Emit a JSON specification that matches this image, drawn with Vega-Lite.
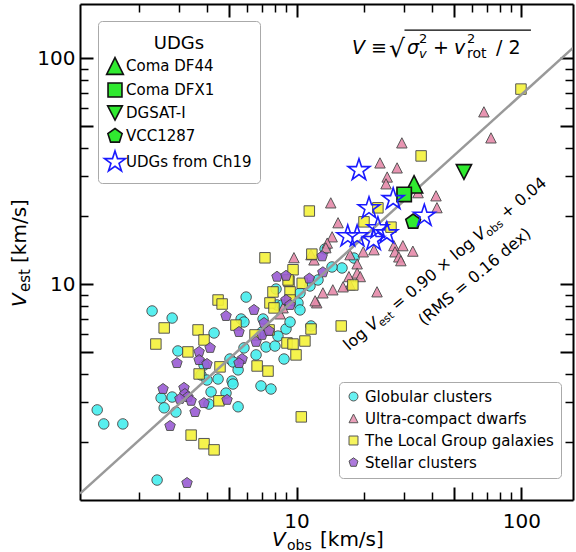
{
  "$schema": "https://vega.github.io/schema/vega-lite/v6.json",
  "width": 493,
  "height": 496,
  "autosize": {"type": "none"},
  "padding": {"left": 80, "top": 4, "right": 3, "bottom": 52},
  "background": "white",
  "config": {"font": "DejaVu Sans", "view": {"stroke": null}, "text": {"color": "black", "font": "DejaVu Sans"}},
  "layer": [
    {
      "data": {"values": [
        {"group": "Globular clusters", "vobs": 1.30, "vest": 2.78},
        {"group": "Globular clusters", "vobs": 1.39, "vest": 2.41},
        {"group": "Globular clusters", "vobs": 1.69, "vest": 2.41},
        {"group": "Globular clusters", "vobs": 2.40, "vest": 1.36},
        {"group": "Globular clusters", "vobs": 2.28, "vest": 7.62},
        {"group": "Globular clusters", "vobs": 2.80, "vest": 7.09},
        {"group": "Globular clusters", "vobs": 2.97, "vest": 5.07},
        {"group": "Globular clusters", "vobs": 2.50, "vest": 3.14},
        {"group": "Globular clusters", "vobs": 2.58, "vest": 2.84},
        {"group": "Globular clusters", "vobs": 2.80, "vest": 3.17},
        {"group": "Globular clusters", "vobs": 2.91, "vest": 2.72},
        {"group": "Globular clusters", "vobs": 3.88, "vest": 4.39},
        {"group": "Globular clusters", "vobs": 4.30, "vest": 6.09},
        {"group": "Globular clusters", "vobs": 3.76, "vest": 3.97},
        {"group": "Globular clusters", "vobs": 4.00, "vest": 3.77},
        {"group": "Globular clusters", "vobs": 4.48, "vest": 3.81},
        {"group": "Globular clusters", "vobs": 4.17, "vest": 3.34},
        {"group": "Globular clusters", "vobs": 4.08, "vest": 2.95},
        {"group": "Globular clusters", "vobs": 4.86, "vest": 3.30},
        {"group": "Globular clusters", "vobs": 5.17, "vest": 3.73},
        {"group": "Globular clusters", "vobs": 5.22, "vest": 3.62},
        {"group": "Globular clusters", "vobs": 5.06, "vest": 4.67},
        {"group": "Globular clusters", "vobs": 5.22, "vest": 4.53},
        {"group": "Globular clusters", "vobs": 5.50, "vest": 4.18},
        {"group": "Globular clusters", "vobs": 5.50, "vest": 2.87},
        {"group": "Globular clusters", "vobs": 5.97, "vest": 8.78},
        {"group": "Globular clusters", "vobs": 5.67, "vest": 7.02},
        {"group": "Globular clusters", "vobs": 5.84, "vest": 6.81},
        {"group": "Globular clusters", "vobs": 5.84, "vest": 5.23},
        {"group": "Globular clusters", "vobs": 6.61, "vest": 4.87},
        {"group": "Globular clusters", "vobs": 6.95, "vest": 3.55},
        {"group": "Globular clusters", "vobs": 7.70, "vest": 3.44},
        {"group": "Globular clusters", "vobs": 7.32, "vest": 5.28},
        {"group": "Globular clusters", "vobs": 8.02, "vest": 5.33},
        {"group": "Globular clusters", "vobs": 8.80, "vest": 4.67},
        {"group": "Globular clusters", "vobs": 8.27, "vest": 5.90},
        {"group": "Globular clusters", "vobs": 8.98, "vest": 6.34},
        {"group": "Globular clusters", "vobs": 7.10, "vest": 7.02},
        {"group": "Globular clusters", "vobs": 8.11, "vest": 9.53},
        {"group": "Globular clusters", "vobs": 8.19, "vest": 8.10},
        {"group": "Globular clusters", "vobs": 10.36, "vest": 9.15},
        {"group": "Globular clusters", "vobs": 10.15, "vest": 8.27},
        {"group": "Globular clusters", "vobs": 11.48, "vest": 9.83},
        {"group": "Globular clusters", "vobs": 13.39, "vest": 14.33},
        {"group": "Globular clusters", "vobs": 15.93, "vest": 11.81},
        {"group": "Globular clusters", "vobs": 18.01, "vest": 13.07},
        {"group": "Globular clusters", "vobs": 14.38, "vest": 11.93},
        {"group": "Globular clusters", "vobs": 8.62, "vest": 8.10},
        {"group": "Globular clusters", "vobs": 11.60, "vest": 6.54},
        {"group": "Globular clusters", "vobs": 10.36, "vest": 7.70},
        {"group": "Globular clusters", "vobs": 9.36, "vest": 6.81},
        {"group": "Globular clusters", "vobs": 7.03, "vest": 6.15},
        {"group": "Globular clusters", "vobs": 12.46, "vest": 10.45},
        {"group": "Ultra-compact dwarfs", "vobs": 68.1, "vest": 57.9},
        {"group": "Ultra-compact dwarfs", "vobs": 73.2, "vest": 44.4},
        {"group": "Ultra-compact dwarfs", "vobs": 29.4, "vest": 42.2},
        {"group": "Ultra-compact dwarfs", "vobs": 23.5, "vest": 34.4},
        {"group": "Ultra-compact dwarfs", "vobs": 28.0, "vest": 32.7},
        {"group": "Ultra-compact dwarfs", "vobs": 25.3, "vest": 29.8},
        {"group": "Ultra-compact dwarfs", "vobs": 25.0, "vest": 27.8},
        {"group": "Ultra-compact dwarfs", "vobs": 34.7, "vest": 25.4},
        {"group": "Ultra-compact dwarfs", "vobs": 41.7, "vest": 24.6},
        {"group": "Ultra-compact dwarfs", "vobs": 42.1, "vest": 21.8},
        {"group": "Ultra-compact dwarfs", "vobs": 14.2, "vest": 22.9},
        {"group": "Ultra-compact dwarfs", "vobs": 15.3, "vest": 18.7},
        {"group": "Ultra-compact dwarfs", "vobs": 14.4, "vest": 16.2},
        {"group": "Ultra-compact dwarfs", "vobs": 13.7, "vest": 15.2},
        {"group": "Ultra-compact dwarfs", "vobs": 13.5, "vest": 14.5},
        {"group": "Ultra-compact dwarfs", "vobs": 17.3, "vest": 13.5},
        {"group": "Ultra-compact dwarfs", "vobs": 19.8, "vest": 13.9},
        {"group": "Ultra-compact dwarfs", "vobs": 22.1, "vest": 14.2},
        {"group": "Ultra-compact dwarfs", "vobs": 27.1, "vest": 14.8},
        {"group": "Ultra-compact dwarfs", "vobs": 29.7, "vest": 14.8},
        {"group": "Ultra-compact dwarfs", "vobs": 32.9, "vest": 14.0},
        {"group": "Ultra-compact dwarfs", "vobs": 27.4, "vest": 13.9},
        {"group": "Ultra-compact dwarfs", "vobs": 28.5, "vest": 13.2},
        {"group": "Ultra-compact dwarfs", "vobs": 29.1, "vest": 12.7},
        {"group": "Ultra-compact dwarfs", "vobs": 9.74, "vest": 13.1},
        {"group": "Ultra-compact dwarfs", "vobs": 11.96, "vest": 12.8},
        {"group": "Ultra-compact dwarfs", "vobs": 11.6, "vest": 13.5},
        {"group": "Ultra-compact dwarfs", "vobs": 18.6, "vest": 12.3},
        {"group": "Ultra-compact dwarfs", "vobs": 18.6, "vest": 11.2},
        {"group": "Ultra-compact dwarfs", "vobs": 19.2, "vest": 10.8},
        {"group": "Ultra-compact dwarfs", "vobs": 17.1, "vest": 10.8},
        {"group": "Ultra-compact dwarfs", "vobs": 17.3, "vest": 9.93},
        {"group": "Ultra-compact dwarfs", "vobs": 16.1, "vest": 9.73},
        {"group": "Ultra-compact dwarfs", "vobs": 14.5, "vest": 9.44},
        {"group": "Ultra-compact dwarfs", "vobs": 22.8, "vest": 9.25},
        {"group": "Ultra-compact dwarfs", "vobs": 13.1, "vest": 9.15},
        {"group": "Ultra-compact dwarfs", "vobs": 12.3, "vest": 8.27},
        {"group": "Ultra-compact dwarfs", "vobs": 12.1, "vest": 8.44},
        {"group": "Ultra-compact dwarfs", "vobs": 8.45, "vest": 7.39},
        {"group": "Ultra-compact dwarfs", "vobs": 8.71, "vest": 7.86},
        {"group": "The Local Group galaxies", "vobs": 99.5, "vest": 73.1},
        {"group": "The Local Group galaxies", "vobs": 35.8, "vest": 37.0},
        {"group": "The Local Group galaxies", "vobs": 11.4, "vest": 21.1},
        {"group": "The Local Group galaxies", "vobs": 19.95, "vest": 18.9},
        {"group": "The Local Group galaxies", "vobs": 23.0, "vest": 21.8},
        {"group": "The Local Group galaxies", "vobs": 11.7, "vest": 13.6},
        {"group": "The Local Group galaxies", "vobs": 26.3, "vest": 17.9},
        {"group": "The Local Group galaxies", "vobs": 7.24, "vest": 13.1},
        {"group": "The Local Group galaxies", "vobs": 9.65, "vest": 11.6},
        {"group": "The Local Group galaxies", "vobs": 10.6, "vest": 10.1},
        {"group": "The Local Group galaxies", "vobs": 9.26, "vest": 10.3},
        {"group": "The Local Group galaxies", "vobs": 17.8, "vest": 9.93},
        {"group": "The Local Group galaxies", "vobs": 7.86, "vest": 9.25},
        {"group": "The Local Group galaxies", "vobs": 9.36, "vest": 9.25},
        {"group": "The Local Group galaxies", "vobs": 7.62, "vest": 8.27},
        {"group": "The Local Group galaxies", "vobs": 4.48, "vest": 8.52},
        {"group": "The Local Group galaxies", "vobs": 4.67, "vest": 8.18},
        {"group": "The Local Group galaxies", "vobs": 2.58, "vest": 6.41},
        {"group": "The Local Group galaxies", "vobs": 3.65, "vest": 6.28},
        {"group": "The Local Group galaxies", "vobs": 3.88, "vest": 5.67},
        {"group": "The Local Group galaxies", "vobs": 5.38, "vest": 6.60},
        {"group": "The Local Group galaxies", "vobs": 7.94, "vest": 7.86},
        {"group": "The Local Group galaxies", "vobs": 2.37, "vest": 5.44},
        {"group": "The Local Group galaxies", "vobs": 3.29, "vest": 5.02},
        {"group": "The Local Group galaxies", "vobs": 3.69, "vest": 4.01},
        {"group": "The Local Group galaxies", "vobs": 4.57, "vest": 4.31},
        {"group": "The Local Group galaxies", "vobs": 4.52, "vest": 3.05},
        {"group": "The Local Group galaxies", "vobs": 6.68, "vest": 4.35},
        {"group": "The Local Group galaxies", "vobs": 7.47, "vest": 4.13},
        {"group": "The Local Group galaxies", "vobs": 3.40, "vest": 2.15},
        {"group": "The Local Group galaxies", "vobs": 3.88, "vest": 1.97},
        {"group": "The Local Group galaxies", "vobs": 4.30, "vest": 1.85},
        {"group": "The Local Group galaxies", "vobs": 6.54, "vest": 5.97},
        {"group": "The Local Group galaxies", "vobs": 7.55, "vest": 6.28},
        {"group": "The Local Group galaxies", "vobs": 9.07, "vest": 5.50},
        {"group": "The Local Group galaxies", "vobs": 9.65, "vest": 5.44},
        {"group": "The Local Group galaxies", "vobs": 9.95, "vest": 4.87},
        {"group": "The Local Group galaxies", "vobs": 15.8, "vest": 6.54},
        {"group": "The Local Group galaxies", "vobs": 11.6, "vest": 6.34},
        {"group": "The Local Group galaxies", "vobs": 10.9, "vest": 5.61},
        {"group": "The Local Group galaxies", "vobs": 10.5, "vest": 2.59},
        {"group": "The Local Group galaxies", "vobs": 9.17, "vest": 10.45},
        {"group": "The Local Group galaxies", "vobs": 9.36, "vest": 8.52},
        {"group": "Stellar clusters", "vobs": 2.55, "vest": 3.44},
        {"group": "Stellar clusters", "vobs": 3.16, "vest": 3.48},
        {"group": "Stellar clusters", "vobs": 2.74, "vest": 2.36},
        {"group": "Stellar clusters", "vobs": 3.26, "vest": 1.32},
        {"group": "Stellar clusters", "vobs": 2.94, "vest": 4.48},
        {"group": "Stellar clusters", "vobs": 3.69, "vest": 5.02},
        {"group": "Stellar clusters", "vobs": 4.13, "vest": 5.23},
        {"group": "Stellar clusters", "vobs": 3.69, "vest": 4.62},
        {"group": "Stellar clusters", "vobs": 4.00, "vest": 4.44},
        {"group": "Stellar clusters", "vobs": 3.19, "vest": 3.27},
        {"group": "Stellar clusters", "vobs": 3.29, "vest": 3.17},
        {"group": "Stellar clusters", "vobs": 3.03, "vest": 3.11},
        {"group": "Stellar clusters", "vobs": 3.40, "vest": 3.05},
        {"group": "Stellar clusters", "vobs": 3.54, "vest": 2.72},
        {"group": "Stellar clusters", "vobs": 3.88, "vest": 2.98},
        {"group": "Stellar clusters", "vobs": 4.91, "vest": 3.08},
        {"group": "Stellar clusters", "vobs": 4.86, "vest": 7.24},
        {"group": "Stellar clusters", "vobs": 5.55, "vest": 6.15},
        {"group": "Stellar clusters", "vobs": 5.73, "vest": 4.67},
        {"group": "Stellar clusters", "vobs": 5.55, "vest": 4.48},
        {"group": "Stellar clusters", "vobs": 6.47, "vest": 7.70},
        {"group": "Stellar clusters", "vobs": 6.61, "vest": 5.56},
        {"group": "Stellar clusters", "vobs": 7.03, "vest": 5.97},
        {"group": "Stellar clusters", "vobs": 7.17, "vest": 6.74},
        {"group": "Stellar clusters", "vobs": 7.55, "vest": 6.22},
        {"group": "Stellar clusters", "vobs": 8.19, "vest": 10.8},
        {"group": "Stellar clusters", "vobs": 8.98, "vest": 10.9},
        {"group": "Stellar clusters", "vobs": 8.98, "vest": 8.52},
        {"group": "Stellar clusters", "vobs": 9.36, "vest": 8.10},
        {"group": "Stellar clusters", "vobs": 11.4, "vest": 10.6},
        {"group": "Stellar clusters", "vobs": 13.1, "vest": 11.3},
        {"group": "Stellar clusters", "vobs": 13.0, "vest": 13.3}
      ]},
      "mark": {"type": "point", "filled": true, "size": 110, "strokeWidth": 1, "opacity": 0.9},
      "encoding": {
        "x": {"field": "vobs", "type": "quantitative",
          "scale": {"type": "log", "domain": [1.09, 169.5], "nice": false},
          "axis": {"orient": "bottom", "values": [2,3,4,5,6,7,8,9,10,20,30,40,50,60,70,80,90,100],
            "labelExpr": "datum.value == 10 ? '10' : datum.value == 100 ? '100' : ''",
            "title": null, "grid": false, "domainColor": "black", "domainWidth": 2, "tickColor": "black",
            "tickSize": {"condition": {"test": "datum.value == 5 || datum.value == 10 || datum.value == 50 || datum.value == 100", "value": -13}, "value": -8},
            "tickWidth": {"condition": {"test": "datum.value == 5 || datum.value == 10 || datum.value == 50 || datum.value == 100", "value": 2}, "value": 1.5},
            "labelFont": "DejaVu Sans", "labelFontSize": 20, "labelColor": "black", "labelPadding": 24,
            "labelOverlap": false, "labelFlush": false, "labelBound": false}},
        "y": {"field": "vest", "type": "quantitative",
          "scale": {"type": "log", "domain": [1.11, 174], "nice": false},
          "axis": {"orient": "left", "values": [2,3,4,5,6,7,8,9,10,20,30,40,50,60,70,80,90,100],
            "labelExpr": "datum.value == 10 ? '10' : datum.value == 100 ? '100' : ''",
            "title": null, "grid": false, "domainColor": "black", "domainWidth": 2, "tickColor": "black",
            "tickSize": {"condition": {"test": "datum.value == 5 || datum.value == 10 || datum.value == 50 || datum.value == 100", "value": -13}, "value": -8},
            "tickWidth": {"condition": {"test": "datum.value == 5 || datum.value == 10 || datum.value == 50 || datum.value == 100", "value": 2}, "value": 1.5},
            "labelFont": "DejaVu Sans", "labelFontSize": 20, "labelColor": "black", "labelPadding": 18,
            "labelOverlap": false, "labelFlush": false, "labelBound": false}},
        "fill": {"field": "group", "type": "nominal",
          "scale": {"domain": ["Globular clusters", "Ultra-compact dwarfs", "The Local Group galaxies", "Stellar clusters"],
                    "range": ["#45eeee", "#e68aaa", "#f5f23a", "#9a5bd4"]},
          "legend": {"title": null, "orient": "none", "legendX": 259, "legendY": 378, "padding": 7, "strokeColor": "#aaaaaa", "fillColor": "white", "cornerRadius": 4, "labelFont": "DejaVu Sans", "labelFontSize": 15, "labelColor": "black", "labelOffset": 4, "symbolSize": 80, "symbolStrokeWidth": 1, "rowPadding": 6, "labelLimit": 300}},
        "shape": {"field": "group", "type": "nominal",
          "scale": {"domain": ["Globular clusters", "Ultra-compact dwarfs", "The Local Group galaxies", "Stellar clusters"],
                    "range": ["circle", "M0,-1L1,0.95L-1,0.95Z", "square", "M0,-1.05L1,-0.32L0.62,0.85L-0.62,0.85L-1,-0.32Z"]},
          "legend": {"title": null, "orient": "none", "legendX": 259, "legendY": 378, "padding": 7, "strokeColor": "#aaaaaa", "fillColor": "white", "cornerRadius": 4, "labelFont": "DejaVu Sans", "labelFontSize": 15, "labelColor": "black", "labelOffset": 4, "symbolSize": 80, "symbolStrokeWidth": 1, "rowPadding": 6, "labelLimit": 300}},
        "stroke": {"field": "group", "type": "nominal",
          "scale": {"domain": ["Globular clusters", "Ultra-compact dwarfs", "The Local Group galaxies", "Stellar clusters"],
                    "range": ["#444444", "#444444", "#444444", "#444444"]},
          "legend": {"title": null, "orient": "none", "legendX": 259, "legendY": 378, "padding": 7, "strokeColor": "#aaaaaa", "fillColor": "white", "cornerRadius": 4, "labelFont": "DejaVu Sans", "labelFontSize": 15, "labelColor": "black", "labelOffset": 4, "symbolSize": 80, "symbolStrokeWidth": 1, "rowPadding": 6, "labelLimit": 300}}
      }
    },
    {
      "data": {"values": [{"vobs": 1.09, "vest": 1.185}, {"vobs": 169.5, "vest": 111.2}]},
      "mark": {"type": "line", "color": "#999999", "strokeWidth": 2.5, "clip": true},
      "encoding": {
        "x": {"field": "vobs", "type": "quantitative", "axis": null},
        "y": {"field": "vest", "type": "quantitative", "axis": null}
      }
    },
    {
      "data": {"values": [
        {"name": "Coma DF44", "vobs": 33.3, "vest": 27.7},
        {"name": "Coma DFX1", "vobs": 30.1, "vest": 25.0},
        {"name": "DGSAT-I", "vobs": 55.5, "vest": 31.4},
        {"name": "VCC1287", "vobs": 33.0, "vest": 18.9},
        {"name": "UDGs from Ch19", "vobs": 18.95, "vest": 32.0},
        {"name": "UDGs from Ch19", "vobs": 21.0, "vest": 21.7},
        {"name": "UDGs from Ch19", "vobs": 26.9, "vest": 23.8},
        {"name": "UDGs from Ch19", "vobs": 37.0, "vest": 20.1},
        {"name": "UDGs from Ch19", "vobs": 23.0, "vest": 17.7},
        {"name": "UDGs from Ch19", "vobs": 25.2, "vest": 16.8},
        {"name": "UDGs from Ch19", "vobs": 16.9, "vest": 16.3},
        {"name": "UDGs from Ch19", "vobs": 18.6, "vest": 16.3},
        {"name": "UDGs from Ch19", "vobs": 22.0, "vest": 15.7}
      ]},
      "mark": {"type": "point", "filled": true, "size": 256, "strokeWidth": 1.6, "opacity": 1},
      "encoding": {
        "x": {"field": "vobs", "type": "quantitative", "axis": null},
        "y": {"field": "vest", "type": "quantitative", "axis": null},
        "shape": {"field": "name", "type": "nominal",
          "scale": {"domain": ["Coma DF44", "Coma DFX1", "DGSAT-I", "VCC1287", "UDGs from Ch19"],
                    "range": ["M0,-1.08L1.08,1.08L-1.08,1.08Z", "M-0.9,-0.9L0.9,-0.9L0.9,0.9L-0.9,0.9Z", "M0,0.92L0.95,-0.92L-0.95,-0.92Z", "M0,-0.97L0.922,-0.3L0.57,0.785L-0.57,0.785L-0.922,-0.3Z", "M0,-1.43L0.321,-0.442L1.36,-0.442L0.519,0.169L0.841,1.157L0,0.546L-0.841,1.157L-0.519,0.169L-1.36,-0.442L-0.321,-0.442Z"]},
          "legend": {"title": ["", "UDGs"], "orient": "none", "legendX": 18, "legendY": 17, "titleAnchor": "middle", "titleFont": "DejaVu Sans", "titleFontSize": 18, "titleFontWeight": "normal", "titleColor": "black", "titleLineHeight": 6, "titlePadding": 4, "padding": 8, "strokeColor": "#aaaaaa", "fillColor": "white", "cornerRadius": 4, "labelFont": "DejaVu Sans", "labelFontSize": 15, "labelColor": "black", "labelOffset": 2, "symbolSize": 240, "symbolStrokeWidth": 1.6, "rowPadding": 1, "labelLimit": 300}},
        "fill": {"field": "name", "type": "nominal",
          "scale": {"domain": ["Coma DF44", "Coma DFX1", "DGSAT-I", "VCC1287", "UDGs from Ch19"],
                    "range": ["#30ea30", "#30ea30", "#30ea30", "#30ea30", "transparent"]},
          "legend": {"title": ["", "UDGs"], "orient": "none", "legendX": 18, "legendY": 17, "titleAnchor": "middle", "titleFont": "DejaVu Sans", "titleFontSize": 18, "titleFontWeight": "normal", "titleColor": "black", "titleLineHeight": 6, "titlePadding": 4, "padding": 8, "strokeColor": "#aaaaaa", "fillColor": "white", "cornerRadius": 4, "labelFont": "DejaVu Sans", "labelFontSize": 15, "labelColor": "black", "labelOffset": 2, "symbolSize": 240, "symbolStrokeWidth": 1.6, "rowPadding": 1, "labelLimit": 300}},
        "stroke": {"field": "name", "type": "nominal",
          "scale": {"domain": ["Coma DF44", "Coma DFX1", "DGSAT-I", "VCC1287", "UDGs from Ch19"],
                    "range": ["#111111", "#111111", "#111111", "#111111", "#1a1aff"]},
          "legend": {"title": ["", "UDGs"], "orient": "none", "legendX": 18, "legendY": 17, "titleAnchor": "middle", "titleFont": "DejaVu Sans", "titleFontSize": 18, "titleFontWeight": "normal", "titleColor": "black", "titleLineHeight": 6, "titlePadding": 4, "padding": 8, "strokeColor": "#aaaaaa", "fillColor": "white", "cornerRadius": 4, "labelFont": "DejaVu Sans", "labelFontSize": 15, "labelColor": "black", "labelOffset": 2, "symbolSize": 240, "symbolStrokeWidth": 1.6, "rowPadding": 1, "labelLimit": 300}}
      }
    },
    {
      "data": {"values": [{"vobs": 10, "vest": 10}]},
      "mark": {"type": "point", "opacity": 0},
      "encoding": {
        "x": {"field": "vobs", "type": "quantitative",
          "axis": {"orient": "top", "values": [2,3,4,5,6,7,8,9,10,20,30,40,50,60,70,80,90,100], "labels": false,
            "title": null, "grid": false, "domainColor": "black", "domainWidth": 2, "tickColor": "black",
            "tickSize": {"condition": {"test": "datum.value == 5 || datum.value == 10 || datum.value == 50 || datum.value == 100", "value": -13}, "value": -8},
            "tickWidth": {"condition": {"test": "datum.value == 5 || datum.value == 10 || datum.value == 50 || datum.value == 100", "value": 2}, "value": 1.5}}},
        "y": {"field": "vest", "type": "quantitative",
          "axis": {"orient": "right", "values": [2,3,4,5,6,7,8,9,10,20,30,40,50,60,70,80,90,100], "labels": false,
            "title": null, "grid": false, "domainColor": "black", "domainWidth": 2, "tickColor": "black",
            "tickSize": {"condition": {"test": "datum.value == 5 || datum.value == 10 || datum.value == 50 || datum.value == 100", "value": -13}, "value": -8},
            "tickWidth": {"condition": {"test": "datum.value == 5 || datum.value == 10 || datum.value == 50 || datum.value == 100", "value": 2}, "value": 1.5}}}
      }
    },
    {
      "data": {"values": [{}]},
      "encoding": {
        "x": {"datum": 7.78, "type": "quantitative", "axis": null},
        "y": {"datum": 0.695, "type": "quantitative", "axis": null}
      },
      "layer": [
        {"mark": {"type": "text", "text": "V", "fontStyle": "italic", "fontSize": 20, "align": "left", "baseline": "alphabetic"}},
        {"mark": {"type": "text", "text": "obs", "fontSize": 14, "dx": 15, "dy": 4, "align": "left", "baseline": "alphabetic"}},
        {"mark": {"type": "text", "text": "[km/s]", "fontSize": 20, "dx": 48, "align": "left", "baseline": "alphabetic"}}
      ]
    },
    {
      "data": {"values": [{}]},
      "encoding": {
        "x": {"datum": 0.6245, "type": "quantitative", "axis": null},
        "y": {"datum": 7.94, "type": "quantitative", "axis": null}
      },
      "layer": [
        {"mark": {"type": "text", "text": "V", "fontStyle": "italic", "fontSize": 20, "angle": -90, "align": "left", "baseline": "alphabetic"}},
        {"mark": {"type": "text", "text": "est", "fontSize": 15, "angle": -90, "dx": 15, "dy": 4, "align": "left", "baseline": "alphabetic"}},
        {"mark": {"type": "text", "text": "[km/s]", "fontSize": 20, "angle": -90, "dx": 44, "align": "left", "baseline": "alphabetic"}}
      ]
    },
    {
      "data": {"values": [{}]},
      "encoding": {
        "x": {"datum": 17.65, "type": "quantitative", "axis": null},
        "y": {"datum": 104.5, "type": "quantitative", "axis": null}
      },
      "layer": [
        {"mark": {"type": "text", "text": "V", "fontStyle": "italic", "fontSize": 19, "align": "left", "baseline": "alphabetic"}},
        {"mark": {"type": "text", "text": "≡", "fontSize": 19, "dx": 19, "align": "left", "baseline": "alphabetic"}},
        {"mark": {"type": "text", "text": "√", "fontSize": 25, "dx": 37, "dy": 3, "align": "left", "baseline": "alphabetic"}},
        {"mark": {"type": "text", "text": "σ", "fontStyle": "italic", "fontSize": 19, "dx": 55, "align": "left", "baseline": "alphabetic"}},
        {"mark": {"type": "text", "text": "2", "fontSize": 13, "dx": 67, "dy": -11, "align": "left", "baseline": "alphabetic"}},
        {"mark": {"type": "text", "text": "v", "fontStyle": "italic", "fontSize": 13, "dx": 67, "dy": 4, "align": "left", "baseline": "alphabetic"}},
        {"mark": {"type": "text", "text": "+", "fontSize": 19, "dx": 81, "align": "left", "baseline": "alphabetic"}},
        {"mark": {"type": "text", "text": "v", "fontStyle": "italic", "fontSize": 19, "dx": 102, "align": "left", "baseline": "alphabetic"}},
        {"mark": {"type": "text", "text": "2", "fontSize": 13, "dx": 115, "dy": -11, "align": "left", "baseline": "alphabetic"}},
        {"mark": {"type": "text", "text": "rot", "fontSize": 14, "dx": 115, "dy": 4, "align": "left", "baseline": "alphabetic"}},
        {"mark": {"type": "text", "text": "/ 2", "fontSize": 19, "dx": 144, "align": "left", "baseline": "alphabetic"}}
      ]
    },
    {
      "data": {"values": [{}]},
      "mark": {"type": "rule", "color": "black", "strokeWidth": 1.3},
      "encoding": {
        "x": {"datum": 30.2, "type": "quantitative", "axis": null},
        "x2": {"datum": 110.2},
        "y": {"datum": 133.4, "type": "quantitative", "axis": null}
      }
    },
    {
      "data": {"values": [{}]},
      "encoding": {
        "x": {"datum": 17.12, "type": "quantitative", "axis": null},
        "y": {"datum": 5.07, "type": "quantitative", "axis": null}
      },
      "layer": [
        {"mark": {"type": "text", "text": "log", "fontSize": 16, "angle": -40, "align": "left", "baseline": "alphabetic"}},
        {"mark": {"type": "text", "text": "V", "fontStyle": "italic", "fontSize": 16, "angle": -40, "dx": 29.5, "align": "left", "baseline": "alphabetic"}},
        {"mark": {"type": "text", "text": "est", "fontSize": 11, "angle": -40, "dx": 40.4, "dy": 3, "align": "left", "baseline": "alphabetic"}},
        {"mark": {"type": "text", "text": "= 0.90 × log", "fontSize": 16, "angle": -40, "dx": 62.3, "align": "left", "baseline": "alphabetic"}},
        {"mark": {"type": "text", "text": "V", "fontStyle": "italic", "fontSize": 16, "angle": -40, "dx": 169.5, "align": "left", "baseline": "alphabetic"}},
        {"mark": {"type": "text", "text": "obs", "fontSize": 11, "angle": -40, "dx": 180.4, "dy": 3, "align": "left", "baseline": "alphabetic"}},
        {"mark": {"type": "text", "text": "+ 0.04", "fontSize": 16, "angle": -40, "dx": 204.9, "align": "left", "baseline": "alphabetic"}}
      ]
    },
    {
      "data": {"values": [{}]},
      "mark": {"type": "text", "text": "(RMS = 0.16 dex)", "fontSize": 16, "angle": -40, "align": "left", "baseline": "alphabetic"},
      "encoding": {
        "x": {"datum": 36.87, "type": "quantitative", "axis": null},
        "y": {"datum": 6.54, "type": "quantitative", "axis": null}
      }
    }
  ],
  "resolve": {
    "scale": {"fill": "independent", "shape": "independent", "stroke": "independent"},
    "axis": {"x": "independent", "y": "independent"}
  }
}
